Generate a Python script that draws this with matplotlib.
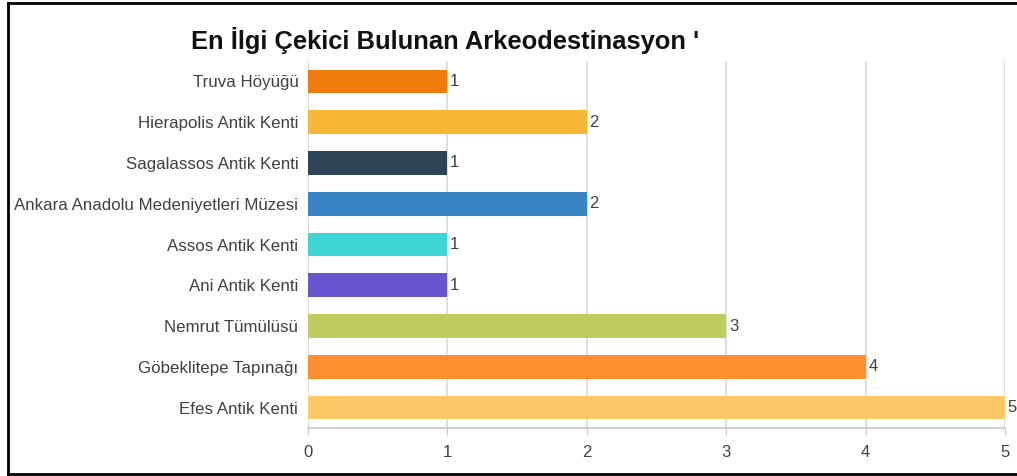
import matplotlib
matplotlib.use("Agg")
import matplotlib.pyplot as plt
from matplotlib.lines import Line2D

plt.rcParams['font.family'] = ['Liberation Sans', 'DejaVu Sans']

places = ["Truva Höyüğü", "Hierapolis Antik Kenti", "Sagalassos Antik Kenti",
          "Ankara Anadolu Medeniyetleri Müzesi", "Assos Antik Kenti", "Ani Antik Kenti",
          "Nemrut Tümülüsü", "Göbeklitepe Tapınağı", "Efes Antik Kenti"]
counts = [1, 2, 1, 2, 1, 1, 3, 4, 5]
colors = ["#F07A0C", "#F7B83A", "#2E4356", "#3884C4", "#3DD5D5", "#6A55CF",
          "#BFCC5E", "#FF8F2E", "#FFC766"]

W, H = 1017, 476
fig = plt.figure(figsize=(W / 100, H / 100), dpi=100)
ax = fig.add_axes([308 / W, 1 - 428 / H, (1005 - 308) / W, (428 - 61) / H])

y = list(range(len(places)))
ax.barh(y, counts, height=0.58, color=colors, zorder=3)
for yi, c in zip(y, counts):
    ax.text(c + 0.02, yi, str(c), va='center', ha='left', fontsize=12, color='#404040')

ax.set_ylim(len(places) - 0.5, -0.5)
ax.set_xlim(0, 5)
ax.set_yticks(y)
ax.set_yticklabels(places, fontsize=12.2, color='#404040')
ax.set_xticks(range(6))
ax.set_xticklabels([str(i) for i in range(6)], fontsize=12, color='#404040')
ax.tick_params(axis='y', length=0, pad=7)
ax.tick_params(axis='x', length=5, color='#c8c8c8', pad=7)
ax.grid(axis='x', color='#d9d9d9', linewidth=1.2, zorder=0)
for s in ['top', 'right', 'left']:
    ax.spines[s].set_visible(False)
ax.spines['bottom'].set_color('#c8c8c8')
ax.spines['bottom'].set_linewidth(1.2)

fig.text(445 / W, 1 - 40 / H, "En İlgi Çekici Bulunan Arkeodestinasyon '",
         ha='center', va='center', fontsize=18.4, fontweight='bold', color='#111111')

# black frame (left, top, bottom)
lw = 2.0
fig.add_artist(Line2D([7.5 / W, 7.5 / W], [1 - 2.5 / H, 1 - 473.5 / H], color='black', lw=lw))
fig.add_artist(Line2D([7.5 / W, 1], [1 - 2.5 / H, 1 - 2.5 / H], color='black', lw=lw))
fig.add_artist(Line2D([7.5 / W, 1], [1 - 473.5 / H, 1 - 473.5 / H], color='black', lw=lw))

fig.savefig("out.png", dpi=100)
